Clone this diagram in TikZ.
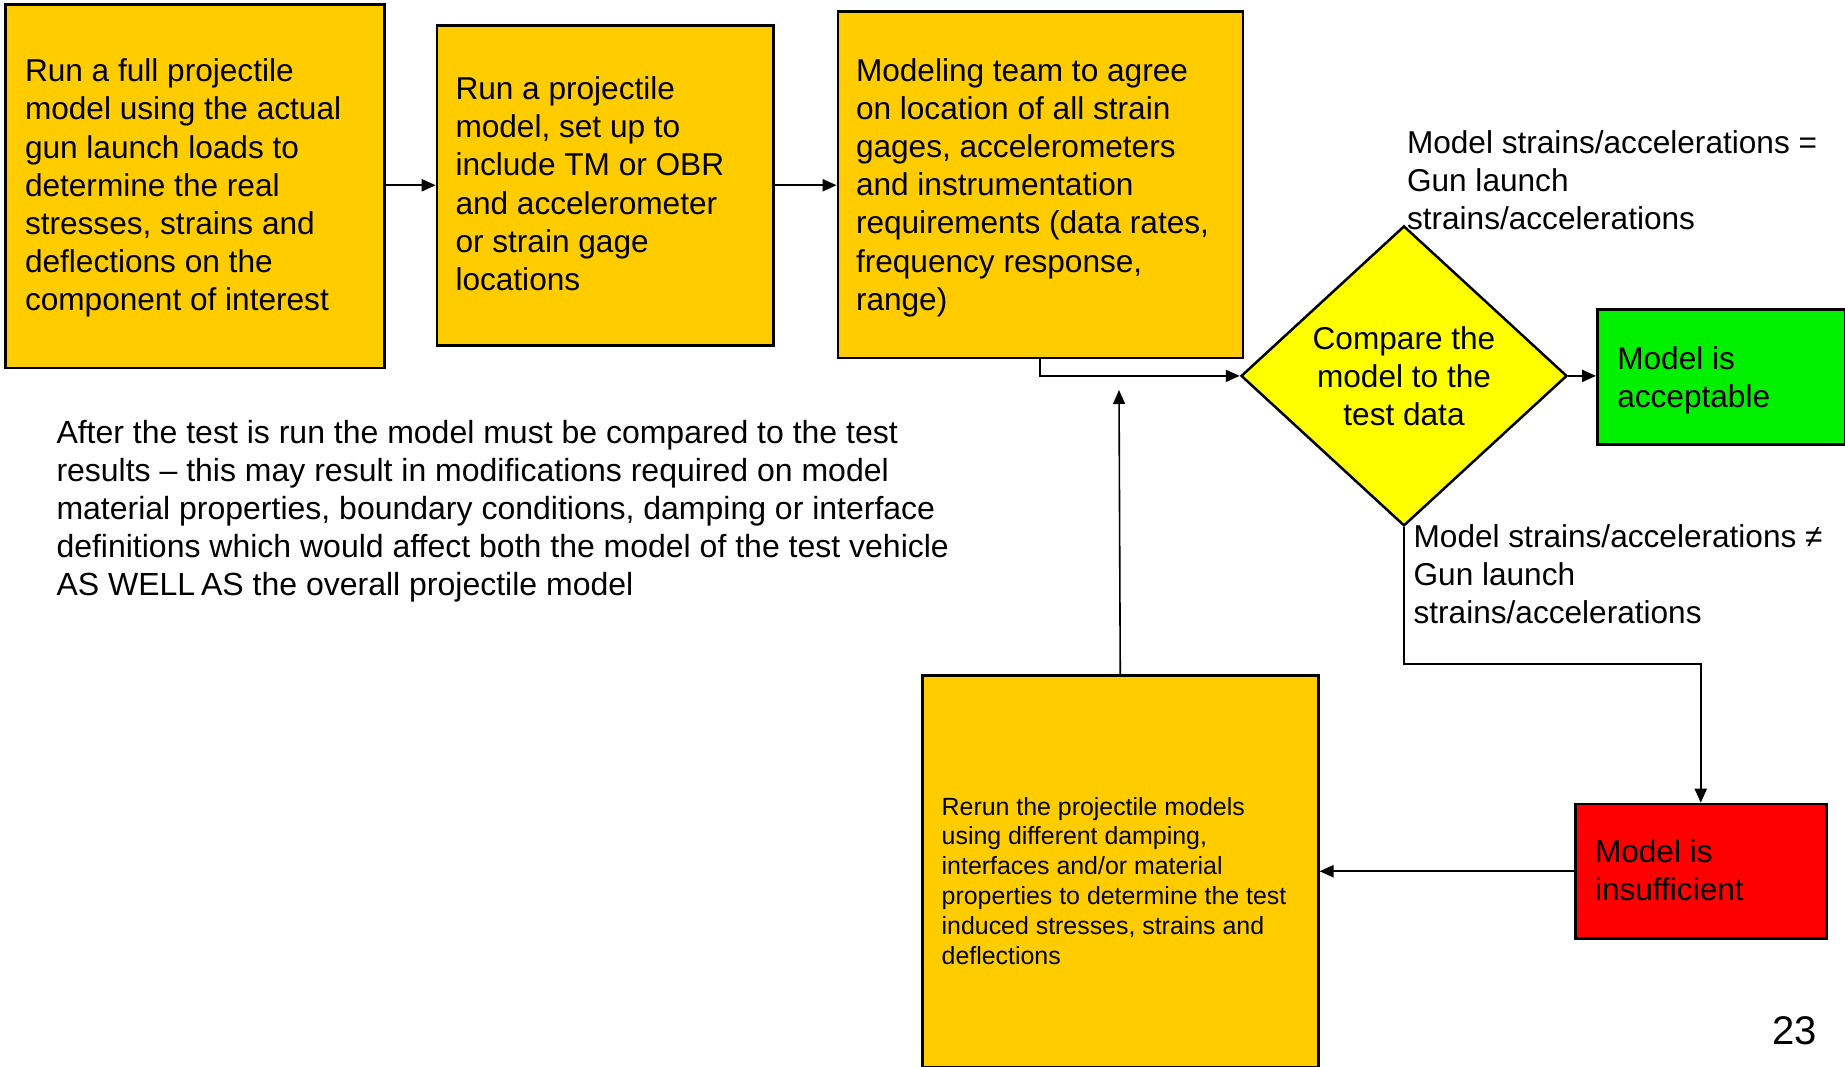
\documentclass[tikz,border=0pt]{standalone}
\usepackage{fontspec}
\setmainfont{Liberation Sans}
\usetikzlibrary{shapes.geometric,arrows.meta}

\definecolor{boxorange}{RGB}{255,204,0}
\definecolor{decyellow}{RGB}{255,255,0}
\definecolor{okgreen}{RGB}{0,240,0}
\definecolor{badred}{RGB}{255,0,0}

\newcommand{\bigtext}{\fontsize{31.6}{38.2}\selectfont}
\newcommand{\paratext}{\fontsize{32}{38.2}\selectfont}
\newcommand{\smalltext}{\fontsize{24.9}{29.9}\selectfont}
\newcommand{\leftlines}[1]{\begin{tabular}[t]{@{}l@{}}#1\end{tabular}}
\newcommand{\centerlines}[1]{\begin{tabular}[t]{@{}c@{}}#1\end{tabular}}

\tikzset{
  stepbox/.style={draw=black, line width=2.5pt, rectangle, inner sep=0pt, anchor=north west},
  orangebox/.style={stepbox, fill=boxorange},
  decision/.style={draw=black, line width=2.5pt, diamond, fill=decyellow, inner sep=0pt},
  txt/.style={inner sep=0pt, outer sep=0pt, anchor=base west, font=\bigtext},
  flow/.style={line width=2pt, -{Triangle[length=14pt,width=12pt]}},
}

\begin{document}
\begin{tikzpicture}[x=1pt, y=-1pt]
\useasboundingbox (0,0) rectangle (1845,1066);
\clip (0,0) rectangle (1845,1066);

% process boxes
\node[orangebox, minimum width=379.3pt, minimum height=363.4pt] (b1) at (4,3.3) {};
\node[orangebox, minimum width=336.7pt, minimum height=320pt] (b2) at (435.7,24) {};
\node[orangebox, minimum width=404.9pt, minimum height=346.4pt] (b3) at (836.6,10.3) {};
\node[decision, minimum width=326pt, minimum height=300pt] (dia) at (1404,375.9) {};
\node[stepbox, fill=okgreen, minimum width=248pt, minimum height=135pt] (ok) at (1596,308.3) {};
\node[stepbox, fill=badred, minimum width=251pt, minimum height=134.6pt] (bad) at (1574,802.7) {};
\node[orangebox, minimum width=396pt, minimum height=392pt] (rerun) at (921,674) {};

% box texts
\node[txt] (t1) at (25,81.7) {\leftlines{Run a full projectile\\ model using the actual\\ gun launch loads to\\ determine the real\\ stresses, strains and\\ deflections on the\\ component of interest}};
\node[txt] (t2) at (455.5,99.5) {\leftlines{Run a projectile\\ model, set up to\\ include TM or OBR\\ and accelerometer\\ or strain gage\\ locations}};
\node[txt] (t3) at (856,81) {\leftlines{Modeling team to agree\\ on location of all strain\\ gages, accelerometers\\ and instrumentation\\ requirements (data rates,\\ frequency response,\\ range)}};
\node[txt, anchor=base] (tdia) at (1404,349.5) {\centerlines{Compare the\\ model to the\\ test data}};
\node[txt] (tok) at (1617.3,369) {\leftlines{Model is\\ acceptable}};
\node[txt] (tbad) at (1595,862.7) {\leftlines{Model is\\ insufficient}};
\node[txt, font=\smalltext] (trerun) at (941.7,815) {\leftlines{Rerun the projectile models\\ using different damping,\\ interfaces and/or material\\ properties to determine the test\\ induced stresses, strains and\\ deflections}};

% free texts
\node[txt] (teq) at (1407,153) {\leftlines{Model strains/accelerations =\\ Gun launch\\ strains/accelerations}};
\node[txt] (tne) at (1413.6,547) {\leftlines{Model strains/accelerations ≠\\ Gun launch\\ strains/accelerations}};
\node[txt, font=\paratext] (tpara) at (56.5,443) {\leftlines{After the test is run the model must be compared to the test\\ results – this may result in modifications required on model\\ material properties, boundary conditions, damping or interface\\ definitions which would affect both the model of the test vehicle\\ AS WELL\hspace{-3pt} AS the overall projectile model}};
\node[txt, anchor=base east, font=\fontsize{40}{48}\selectfont] (pnum) at (1817,1044) {23};

% connectors
\coordinate (bend) at (1552,664);
\coordinate (upend) at (1119,390);
\draw[flow] (b1.east |- b2.west) -- (b2.west);
\draw[flow] (b2.east) -- (b3.west |- b2.east);
\draw[flow] (b3.south) |- (dia.west);
\draw[flow] (dia.east) -- (ok.west |- dia.east);
\draw[flow] (dia.south) |- (bend) -| (bad.north);
\draw[flow] (bad.west) -- (rerun.east |- bad.west);
\draw[flow, line width=1.6pt] (rerun.north) -- (upend);
\end{tikzpicture}
\end{document}
